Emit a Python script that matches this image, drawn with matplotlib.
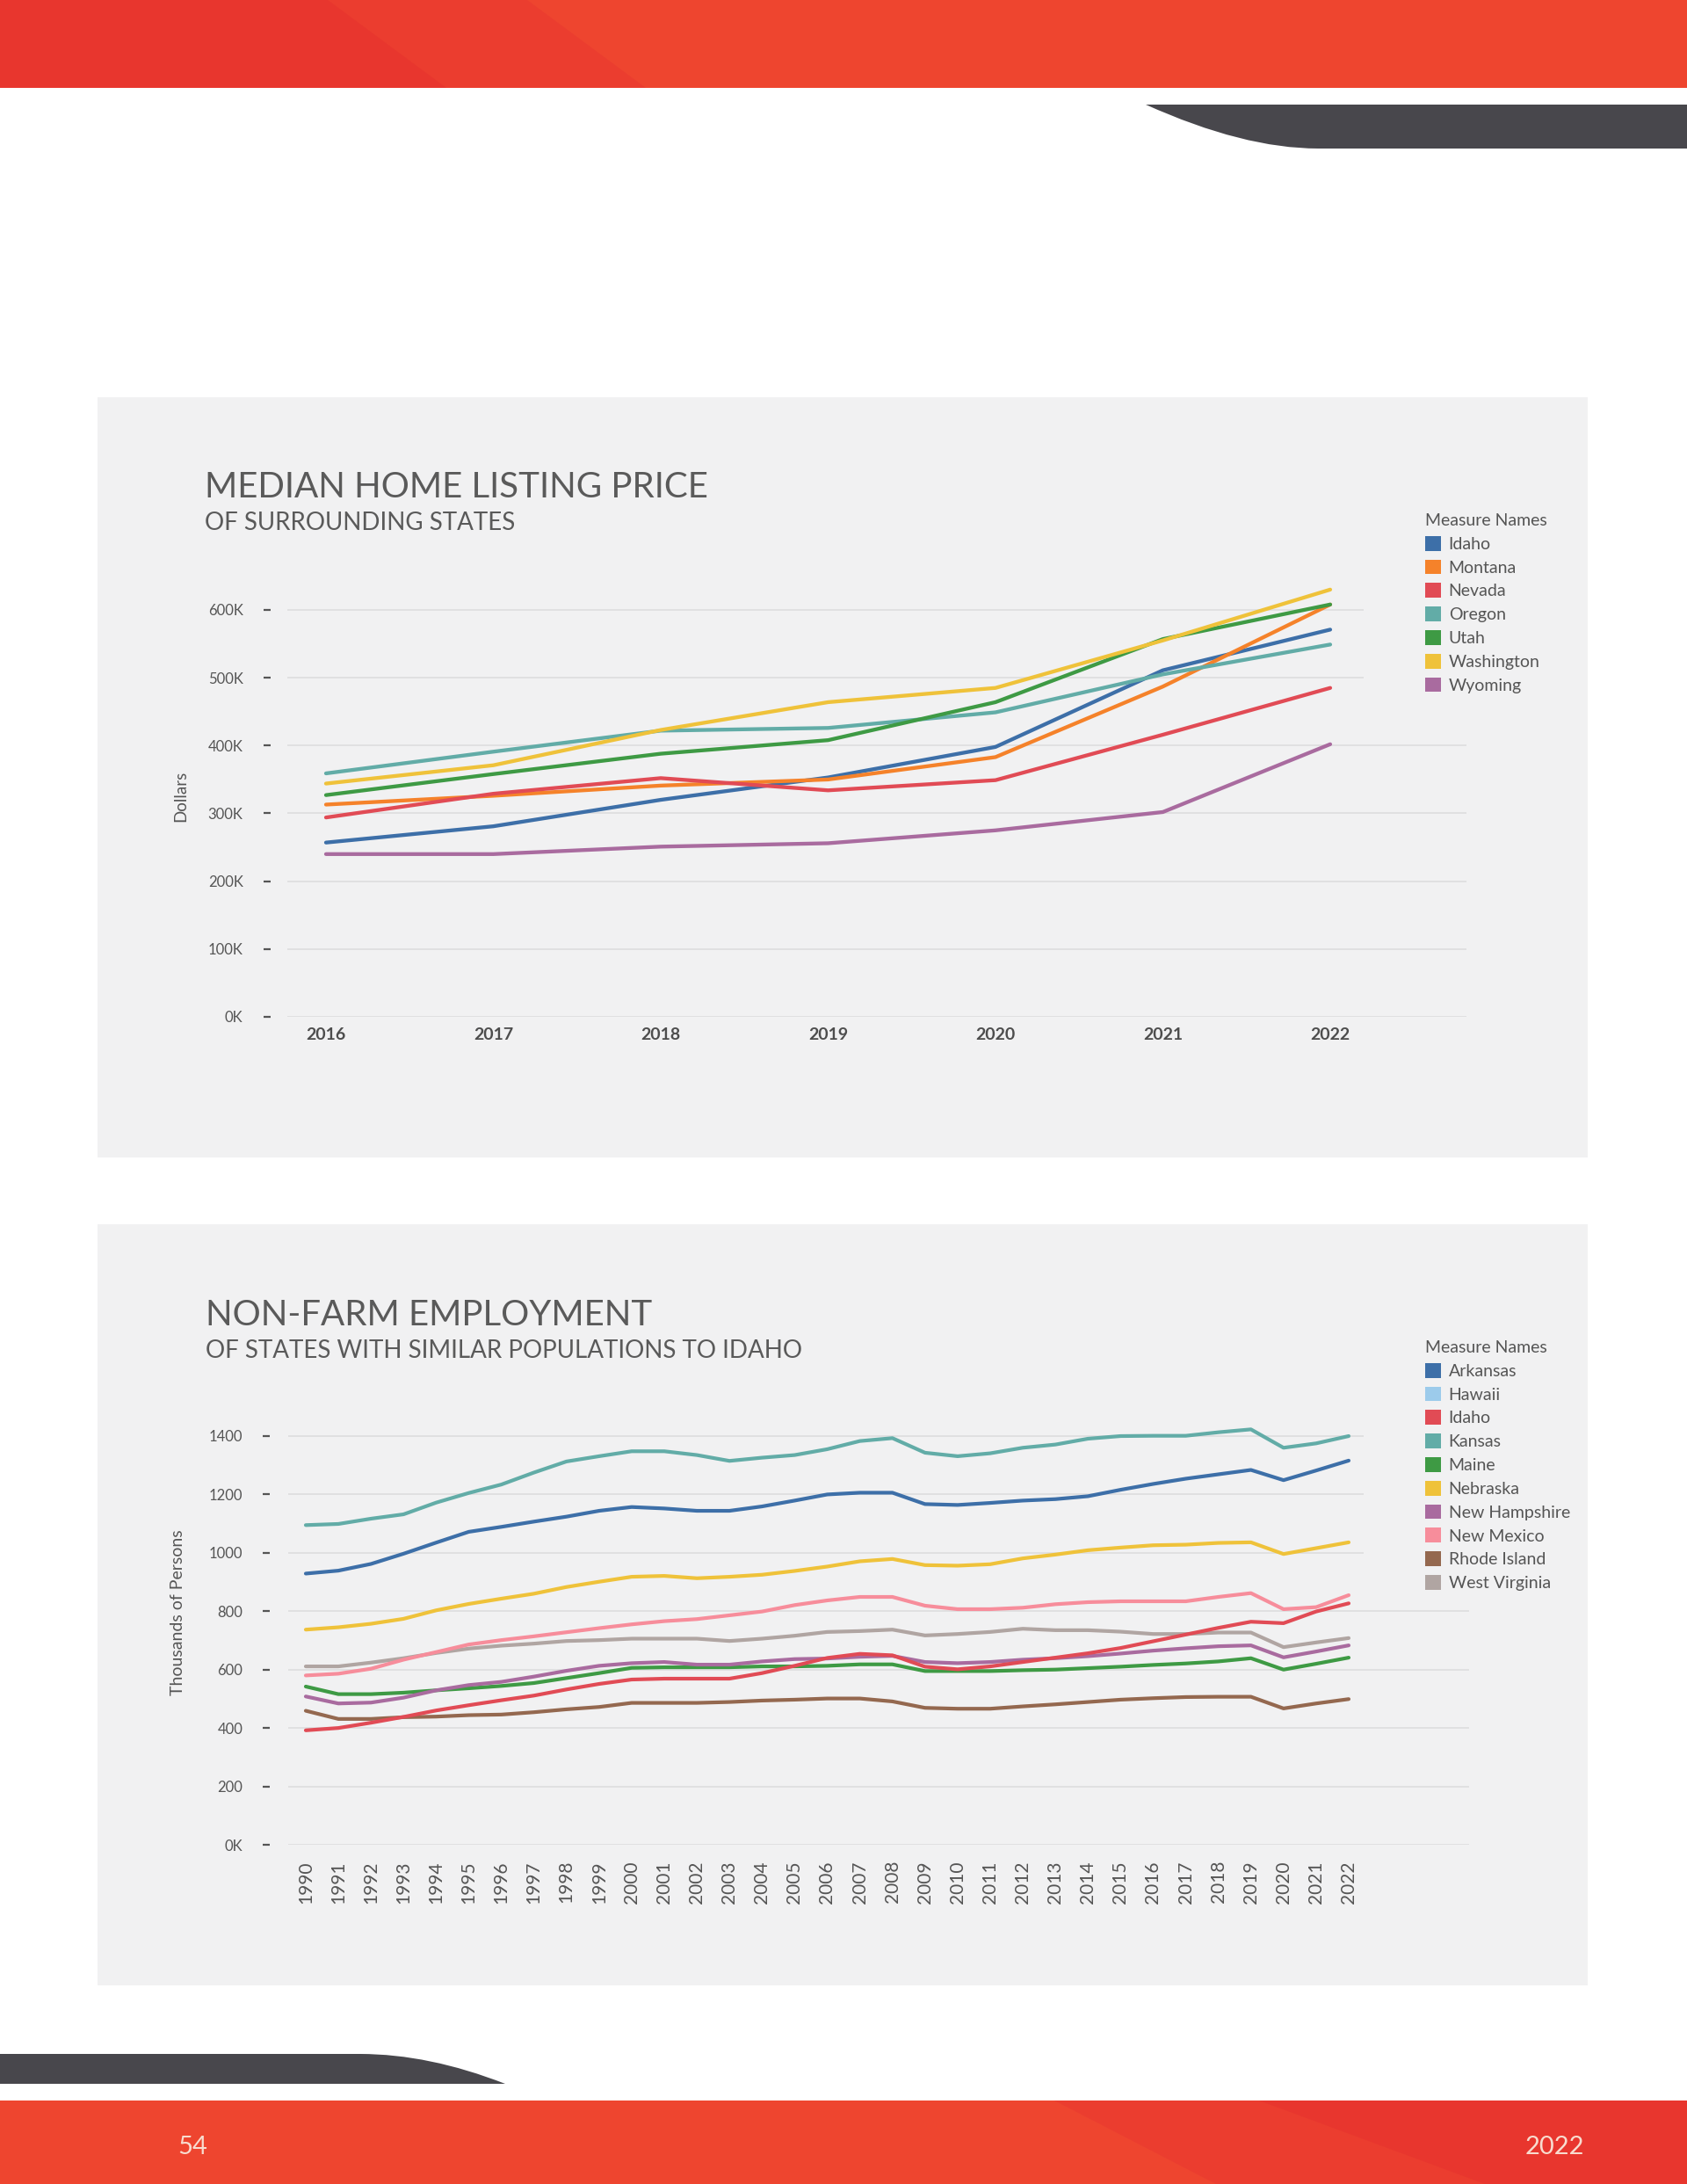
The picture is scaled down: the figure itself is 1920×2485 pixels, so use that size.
import matplotlib
matplotlib.use('Agg')
import matplotlib.pyplot as plt
from matplotlib.patches import Rectangle, Polygon, PathPatch, Patch
from matplotlib.path import Path

W, H = 1920, 2485
plt.rcParams['font.family'] = ['Lato', 'DejaVu Sans']

# ---------------- data: median home listing price ----------------
price_years = [2016, 2017, 2018, 2019, 2020, 2021, 2022]
price_states = ['Idaho', 'Montana', 'Nevada', 'Oregon', 'Utah', 'Washington', 'Wyoming']
price_idaho = [257000, 281000, 320000, 353000, 398000, 511000, 571000]
price_montana = [313000, 326000, 341000, 350000, 383000, 487000, 608000]
price_nevada = [294000, 329000, 352000, 334000, 349000, 416000, 485000]
price_oregon = [359000, 391000, 422000, 426000, 449000, 505000, 549000]
price_utah = [327000, 358000, 388000, 408000, 464000, 557000, 608000]
price_washington = [344000, 371000, 423000, 464000, 485000, 555000, 630000]
price_wyoming = [240000, 240000, 251000, 256000, 275000, 302000, 402000]
price_ticks = [0, 100000, 200000, 300000, 400000, 500000, 600000]
price_tick_labels = ['0K', '100K', '200K', '300K', '400K', '500K', '600K']

# ---------------- data: non-farm employment (thousands) ----------------
emp_years = list(range(1990, 2023))
emp_states = ['Arkansas', 'Hawaii', 'Idaho', 'Kansas', 'Maine', 'Nebraska',
              'New Hampshire', 'New Mexico', 'Rhode Island', 'West Virginia']
emp_arkansas = [929, 939, 962, 997, 1035, 1072, 1089, 1107, 1124, 1144, 1157, 1152, 1144, 1144, 1159, 1179, 1200,
                1206, 1206, 1167, 1164, 1171, 1179, 1184, 1194, 1216, 1236, 1254, 1269, 1284, 1249, 1282, 1316]
emp_hawaii = []  # listed in the legend, no line drawn
emp_idaho = [392, 400, 418, 438, 460, 478, 495, 511, 532, 551, 566, 569, 569, 569, 588, 613, 640,
             654, 649, 610, 601, 611, 626, 641, 656, 674, 697, 720, 743, 764, 759, 799, 827]
emp_kansas = [1095, 1099, 1117, 1132, 1172, 1205, 1234, 1275, 1313, 1331, 1348, 1348, 1335, 1315, 1326, 1335, 1355,
              1383, 1393, 1343, 1331, 1341, 1360, 1371, 1391, 1400, 1401, 1401, 1413, 1423, 1360, 1375, 1400]
emp_maine = [542, 516, 516, 521, 529, 536, 544, 554, 571, 588, 606, 608, 608, 608, 611, 611, 613,
             618, 618, 595, 595, 595, 598, 600, 605, 610, 616, 621, 628, 639, 600, 620, 641]
emp_nebraska = [737, 745, 757, 774, 803, 825, 843, 860, 883, 901, 918, 921, 913, 918, 925, 938, 953,
                971, 979, 958, 956, 961, 981, 994, 1009, 1018, 1026, 1028, 1034, 1036, 996, 1016, 1036]
emp_new_hampshire = [508, 484, 487, 504, 529, 547, 558, 576, 596, 613, 622, 626, 617, 617, 628, 636, 638,
                     644, 647, 626, 622, 626, 634, 639, 646, 655, 665, 673, 680, 683, 642, 662, 683]
emp_new_mexico = [580, 586, 603, 634, 660, 686, 701, 714, 728, 742, 755, 766, 773, 786, 799, 821, 837,
                  849, 849, 819, 807, 807, 812, 824, 831, 834, 834, 834, 849, 862, 807, 814, 855]
emp_rhode_island = [459, 431, 431, 437, 439, 444, 446, 454, 464, 472, 486, 486, 486, 489, 494, 497, 501,
                    501, 491, 469, 466, 466, 474, 481, 489, 497, 502, 506, 507, 507, 467, 484, 499]
emp_west_virginia = [611, 611, 624, 639, 657, 672, 682, 689, 698, 701, 706, 706, 706, 698, 706, 716, 729,
                     732, 737, 717, 722, 729, 740, 735, 735, 730, 722, 722, 727, 727, 677, 693, 708]
emp_ticks = [0, 200, 400, 600, 800, 1000, 1200, 1400]
emp_tick_labels = ['0K', '200', '400', '600', '800', '1000', '1200', '1400']

price_colors = ['#3d6fa8', '#f5822a', '#e14b55', '#62aca7', '#3e9a44', '#efc23a', '#a96b9f']
emp_colors = ['#3d6fa8', '#9ccbeb', '#e14b55', '#62aca7', '#3e9a44', '#efc23a',
              '#a96b9f', '#f78d9b', '#94684f', '#b0a5a2']

PANEL = '#f1f1f2'
GRID = '#dcdcdc'
TEXT = '#555555'
TITLE = '#5a5a5a'


def box(left, top, right, bottom):
    return [left / W, 1 - bottom / H, (right - left) / W, (bottom - top) / H]


def fx(x):
    return x / W


def fy(y):
    return 1 - y / H


fig = plt.figure(figsize=(W / 100, H / 100), dpi=100)
fig.patch.set_facecolor('white')


def add_poly(points, color, z=-5):
    pts = [(fx(x), fy(y)) for x, y in points]
    fig.add_artist(Polygon(pts, closed=True, facecolor=color, edgecolor='none',
                           transform=fig.transFigure, zorder=z))


# page decoration: top band
add_poly([(0, 0), (W, 0), (W, 100), (0, 100)], '#ee452f')
add_poly([(0, 0), (600, 0), (735, 100), (0, 100)], '#eb3d2f')
add_poly([(0, 0), (373, 0), (508, 100), (0, 100)], '#e8362e')
# bottom band
add_poly([(0, 2390), (W, 2390), (W, H), (0, H)], '#ee452f')
add_poly([(1200, 2390), (W, 2390), (W, H), (1384, H)], '#eb3d2f')
add_poly([(1433, 2390), (W, 2390), (W, H), (1690, H)], '#e8362e')

# dark swooshes
verts = [(1304, 119), (1415, 169), (1500, 169), (W, 169), (W, 119), (1304, 119)]
codes = [Path.MOVETO, Path.CURVE3, Path.CURVE3, Path.LINETO, Path.LINETO, Path.CLOSEPOLY]
fig.add_artist(PathPatch(Path([(fx(x), fy(y)) for x, y in verts], codes), facecolor='#48474c',
                         edgecolor='none', transform=fig.transFigure, zorder=-5))
verts = [(0, 2337), (410, 2337), (488, 2337), (575, 2371), (0, 2371), (0, 2337)]
codes = [Path.MOVETO, Path.LINETO, Path.CURVE3, Path.CURVE3, Path.LINETO, Path.CLOSEPOLY]
fig.add_artist(PathPatch(Path([(fx(x), fy(y)) for x, y in verts], codes), facecolor='#48474c',
                         edgecolor='none', transform=fig.transFigure, zorder=-5))

fig.text(fx(219), fy(2443), '54', color='#f8dccf', fontsize=21, ha='center', va='center')
fig.text(fx(1769), fy(2443), '2022', color='#f8dccf', fontsize=21, ha='center', va='center')

# grey panels
for top, bottom in [(452, 1317), (1393, 2259)]:
    fig.add_artist(Rectangle((fx(111), fy(bottom)), (1807 - 111) / W, (bottom - top) / H,
                             facecolor=PANEL, edgecolor='none', transform=fig.transFigure, zorder=-8))


def style_axis(ax, outward):
    ax.set_facecolor('none')
    for s in ax.spines.values():
        s.set_visible(False)
    ax.spines['left'].set_position(('outward', outward))
    ax.grid(axis='y', color=GRID, linewidth=1.1)
    ax.grid(axis='x', visible=False)
    ax.set_axisbelow(True)
    ax.tick_params(axis='y', direction='out', length=5.8, width=1.6, color=TEXT,
                   pad=16.5, labelsize=12, labelcolor=TEXT)


def add_legend(top, bottom, anchor_y, names, colors):
    lax = fig.add_axes(box(1552, top, 1800, bottom))
    lax.set_facecolor(PANEL)
    for s in lax.spines.values():
        s.set_visible(False)
    lax.set_xticks([])
    lax.set_yticks([])
    handles = [Patch(facecolor=c, edgecolor='none') for c in colors]
    leg = lax.legend(handles, names, title='Measure Names', loc='upper left',
                     bbox_to_anchor=(fx(1622), fy(anchor_y)), bbox_transform=fig.transFigure,
                     frameon=False, borderpad=0, borderaxespad=0, handlelength=0.95, handleheight=0.95,
                     handletextpad=0.42, labelspacing=0.45, fontsize=14, title_fontsize=14,
                     alignment='left')
    for t in leg.get_texts():
        t.set_color(TEXT)
    leg.get_title().set_color(TEXT)


# ---------------- chart 1 ----------------
fig.text(fx(233), fy(555), 'MEDIAN HOME LISTING PRICE', fontsize=29,
         color=TITLE, ha='left', va='center')
fig.text(fx(233), fy(595), 'OF SURROUNDING STATES', fontsize=20,
         color=TITLE, ha='left', va='center')
fig.text(fx(206), fy(906), 'Dollars', fontsize=13.5, color=TEXT, rotation=90, ha='center', va='center')

ax1 = fig.add_axes(box(327, 1157 - 650 * 463 / 600, 1669, 1157))
style_axis(ax1, 14)
price_series = [price_idaho, price_montana, price_nevada, price_oregon, price_utah,
                price_washington, price_wyoming]
for vals, c in zip(price_series, price_colors):
    ax1.plot(price_years, vals, color=c, linewidth=3.1, solid_capstyle='round', solid_joinstyle='round')
ax1.set_xlim(2015.769, 2022.814)
ax1.set_ylim(0, 650000)
ax1.set_yticks(price_ticks)
ax1.set_yticklabels(price_tick_labels)
ax1.set_xticks(price_years)
ax1.set_xticklabels([str(y) for y in price_years])
ax1.tick_params(axis='x', length=0, pad=8.6, labelsize=14, labelcolor='#4d4d4d')
for t in ax1.get_xticklabels():
    t.set_fontweight('bold')
add_legend(560, 815, 584, price_states, price_colors)

# ---------------- chart 2 ----------------
fig.text(fx(234), fy(1497), 'NON-FARM EMPLOYMENT', fontsize=29,
         color=TITLE, ha='left', va='center')
fig.text(fx(234), fy(1537), 'OF STATES WITH SIMILAR POPULATIONS TO IDAHO', fontsize=20,
         color=TITLE, ha='left', va='center')
fig.text(fx(203), fy(1835), 'Thousands of Persons', fontsize=14, color=TEXT, rotation=90,
         ha='center', va='center')

ax2 = fig.add_axes(box(328, 2099 - 1480 * 465 / 1400, 1672, 2099))
style_axis(ax2, 15)
emp_series = [emp_arkansas, emp_hawaii, emp_idaho, emp_kansas, emp_maine, emp_nebraska,
              emp_new_hampshire, emp_new_mexico, emp_rhode_island, emp_west_virginia]
draw_order = [8, 4, 6, 9, 7, 5, 0, 3, 2]
for i in draw_order:
    vals = emp_series[i]
    if vals:
        ax2.plot(emp_years, vals, color=emp_colors[i], linewidth=3.0,
                 solid_capstyle='round', solid_joinstyle='round')
ax2.set_xlim(1989.461, 2025.694)
ax2.set_ylim(0, 1480)
ax2.set_yticks(emp_ticks)
ax2.set_yticklabels(emp_tick_labels)
ax2.set_xticks(emp_years)
ax2.set_xticklabels([str(y) for y in emp_years], rotation=90)
ax2.tick_params(axis='x', length=0, pad=13, labelsize=15, labelcolor=TEXT)
add_legend(1505, 1818, 1525, emp_states, emp_colors)

fig.savefig('out.png', dpi=100, facecolor='white')
